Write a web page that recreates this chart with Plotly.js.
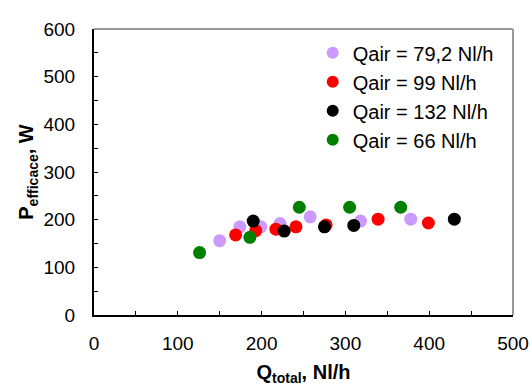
<!DOCTYPE html>
<html>
<head>
<meta charset="utf-8">
<script src="https://cdn.plot.ly/plotly-3.0.1.min.js"></script>
<style>html,body{margin:0;padding:0;background:#fff;}#chart{width:532px;height:386px;}</style>
</head>
<body>
<div id="chart"></div>
<script>
const seriesNames = ["Qair = 79,2 Nl/h", "Qair = 99 Nl/h", "Qair = 132 Nl/h", "Qair = 66 Nl/h"];
const seriesColors = ["#cc99ff", "#ff0000", "#000000", "#008000"];

const x792 = [150, 174, 199, 222, 258, 318, 378];
const y792 = [156, 185, 185, 192, 206, 197, 201];

const x99 = [169, 193, 217, 241, 277, 339, 399];
const y99 = [168, 177, 180, 185, 189, 201, 193];

const x132 = [190, 227, 275, 310, 430];
const y132 = [197, 176, 185, 188, 201];

const x66 = [126, 186, 245, 305, 366];
const y66 = [131, 163, 226, 226, 226];

const xs = [x792, x99, x132, x66];
const ys = [y792, y99, y132, y66];

const traces = xs.map((x, i) => ({
  type: "scatter",
  mode: "markers",
  x: x,
  y: ys[i],
  name: seriesNames[i],
  marker: {color: seriesColors[i], size: 13, line: {width: 0}}
}));

const fam = "Liberation Sans, Arial, sans-serif";
const tickFont = {family: fam, size: 19, color: "#000"};

const layout = {
  width: 532,
  height: 386,
  margin: {l: 94, r: 19, t: 29, b: 71, pad: 0},
  paper_bgcolor: "#fff",
  plot_bgcolor: "#fff",
  font: {family: fam, size: 19, color: "#000"},
  showlegend: true,
  legend: {
    x: 0.522, y: 0.985, xanchor: "left", yanchor: "top",
    font: {family: fam, size: 20, color: "#000"},
    bgcolor: "rgba(0,0,0,0)",
    itemsizing: "constant",
    tracegroupgap: 0
  },
  xaxis: {
    range: [0, 500],
    dtick: 100,
    tick0: 0,
    ticks: "inside",
    ticklen: 4,
    tickwidth: 1,
    tickcolor: "#000",
    minor: {dtick: 50, ticks: "inside", ticklen: 4, tickcolor: "#000"},
    showgrid: false,
    zeroline: false,
    showline: true,
    linecolor: "#000",
    linewidth: 2,
    mirror: false,
    ticklabelstandoff: 10,
    tickfont: tickFont,
    title: {text: "<b>Q<sub>total</sub>, Nl/h</b>", font: {family: fam, size: 20, color: "#000"}, standoff: 12}
  },
  yaxis: {
    range: [0, 600],
    dtick: 100,
    tick0: 0,
    ticks: "inside",
    ticklen: 4,
    tickwidth: 1,
    tickcolor: "#000",
    minor: {dtick: 50, ticks: "inside", ticklen: 4, tickcolor: "#000"},
    showgrid: false,
    zeroline: false,
    showline: true,
    linecolor: "#000",
    linewidth: 2,
    ticklabelstandoff: 13,
    tickfont: tickFont,
    title: {text: "<b>P<sub>efficace</sub>, W</b>", font: {family: fam, size: 20, color: "#000"}, standoff: 4}
  },
  shapes: [
    {type: "line", xref: "paper", yref: "paper", x0: 0, x1: 1, y0: 1, y1: 1, line: {color: "#999", width: 2}},
    {type: "line", xref: "paper", yref: "paper", x0: 1, x1: 1, y0: 0, y1: 1, line: {color: "#999", width: 2}}
  ]
};

Plotly.newPlot("chart", traces, layout, {displayModeBar: false, staticPlot: true});
</script>
</body>
</html>
